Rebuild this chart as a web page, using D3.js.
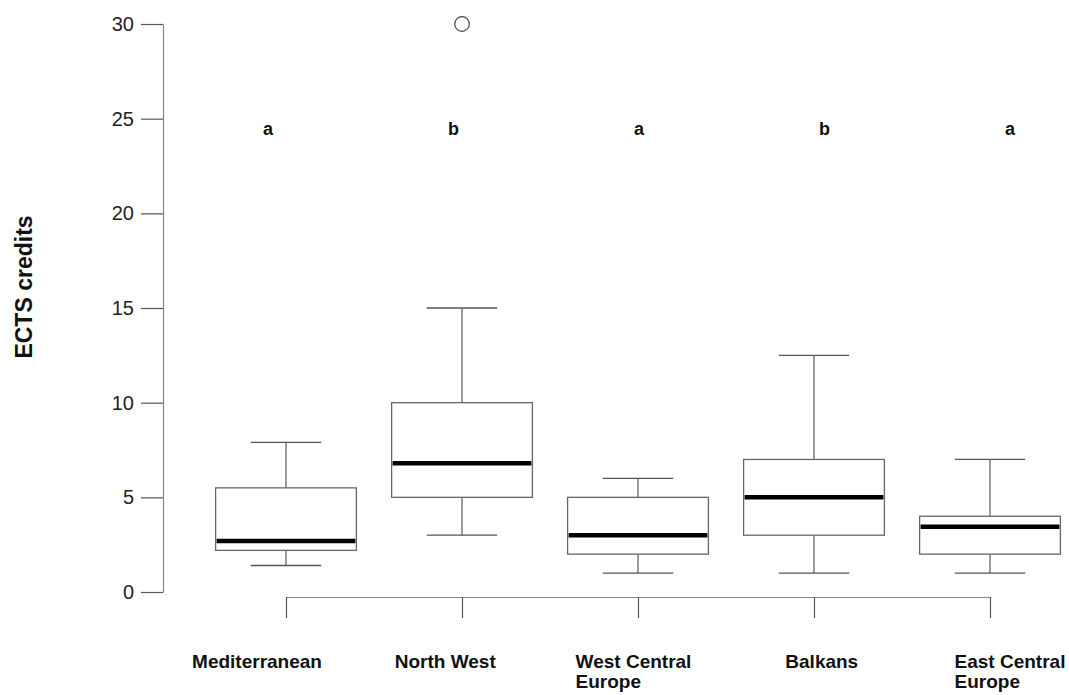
<!DOCTYPE html>
<html><head><meta charset="utf-8">
<script src="https://cdn.jsdelivr.net/npm/d3@7/dist/d3.min.js"></script>
<style>
body{margin:0;background:#fff;}
svg{display:block;font-family:"Liberation Sans",Arial,Helvetica,sans-serif;}
</style></head><body>
<svg id="chart" width="1069" height="695"></svg>
<script>
// ---- data ----
const categories = ["Mediterranean", "North West", "West Central Europe", "Balkans", "East Central Europe"];
const labelLines = [["Mediterranean"], ["North West"], ["West Central", "Europe"], ["Balkans"], ["East Central", "Europe"]];
const whiskerLow = [1.4, 3, 1, 1, 1];
const q1 = [2.2, 5, 2, 3, 2];
const median = [2.7, 6.8, 3, 5, 3.45];
const q3 = [5.5, 10, 5, 7, 4];
const whiskerHigh = [7.9, 15, 6, 12.5, 7];
const outliers = [{cat: "North West", value: 30}];
const groupLetters = ["a", "b", "a", "b", "a"];
const yTicks = [0, 5, 10, 15, 20, 25, 30];
const yLabel = "ECTS credits";
const letterLevel = 24.2;

// ---- layout ----
const svg = d3.select("#chart");
const y = d3.scaleLinear().domain([0, 30]).range([592, 24]);
const x = d3.scalePoint().domain(categories).range([286, 990]);
const letterX = d3.scalePoint().domain(categories).range([268, 1010]);
const labelX = d3.scalePoint().domain(categories).range([257, 1010]);
const boxW = x.step() * 0.8;
const capW = boxW / 2;
const lineCol = "#666";

// y axis
const yAxis = svg.append("g").attr("transform", "translate(163,0)")
  .call(d3.axisLeft(y).tickValues(yTicks).tickSize(22).tickPadding(7).tickSizeOuter(0));
yAxis.select(".domain").attr("stroke", "#888").attr("stroke-width", 1.2);
yAxis.selectAll(".tick line").attr("stroke", "#555").attr("stroke-width", 1.2);
yAxis.selectAll(".tick text").attr("font-size", 20).attr("fill", "#222")
  .attr("font-family", "'Liberation Sans',Arial,sans-serif");

// x axis
const xAxis = svg.append("g").attr("transform", "translate(0,597)")
  .call(d3.axisBottom(x).tickSize(21).tickSizeOuter(0).tickFormat(""));
xAxis.select(".domain").attr("stroke", "#888").attr("stroke-width", 1.2);
xAxis.selectAll(".tick line").attr("stroke", "#555").attr("stroke-width", 1.2);

// y label
svg.append("text")
  .attr("transform", `translate(32,287) rotate(-90)`)
  .attr("text-anchor", "middle").attr("font-weight", "bold").attr("font-size", 23)
  .attr("fill", "#111").text(yLabel);

// boxes
const rows = categories.map((c, i) => ({c, lo: whiskerLow[i], q1: q1[i], med: median[i], q3: q3[i], hi: whiskerHigh[i]}));
const g = svg.append("g");
const b = g.selectAll("g.box").data(rows).join("g").attr("class", "box");
b.append("line").attr("x1", d => x(d.c)).attr("x2", d => x(d.c))
  .attr("y1", d => y(d.q3)).attr("y2", d => y(d.hi)).attr("stroke", lineCol).attr("stroke-width", 1.3);
b.append("line").attr("x1", d => x(d.c)).attr("x2", d => x(d.c))
  .attr("y1", d => y(d.q1)).attr("y2", d => y(d.lo)).attr("stroke", lineCol).attr("stroke-width", 1.3);
b.append("line").attr("x1", d => x(d.c) - capW / 2).attr("x2", d => x(d.c) + capW / 2)
  .attr("y1", d => y(d.hi)).attr("y2", d => y(d.hi)).attr("stroke", "#555").attr("stroke-width", 1.3);
b.append("line").attr("x1", d => x(d.c) - capW / 2).attr("x2", d => x(d.c) + capW / 2)
  .attr("y1", d => y(d.lo)).attr("y2", d => y(d.lo)).attr("stroke", "#555").attr("stroke-width", 1.3);
b.append("rect").attr("x", d => x(d.c) - boxW / 2).attr("width", boxW)
  .attr("y", d => y(d.q3)).attr("height", d => y(d.q1) - y(d.q3))
  .attr("fill", "#fff").attr("stroke", lineCol).attr("stroke-width", 1.3);
b.append("line").attr("x1", d => x(d.c) - boxW / 2 + 1).attr("x2", d => x(d.c) + boxW / 2 - 1)
  .attr("y1", d => y(d.med)).attr("y2", d => y(d.med)).attr("stroke", "#000").attr("stroke-width", 4.5);

// outliers
g.selectAll("circle.out").data(outliers).join("circle").attr("class", "out")
  .attr("cx", d => x(d.cat)).attr("cy", d => y(d.value)).attr("r", 7.3)
  .attr("fill", "none").attr("stroke", "#444").attr("stroke-width", 1.2);

// group letters
svg.selectAll("text.letter").data(categories).join("text").attr("class", "letter")
  .attr("x", d => letterX(d)).attr("y", y(letterLevel) + 1)
  .attr("text-anchor", "middle").attr("font-weight", "bold").attr("font-size", 18)
  .attr("fill", "#111").text((d, i) => groupLetters[i]);

// category labels
const lab = svg.selectAll("text.cat").data(categories).join("text").attr("class", "cat")
  .attr("font-weight", "bold").attr("font-size", 19).attr("fill", "#111");
lab.each(function(d, i) {
  const t = d3.select(this);
  labelLines[i].forEach((ln, k) => {
    t.append("tspan").attr("dy", k === 0 ? 0 : 20).text(ln);
  });
  let w = 0;
  t.selectAll("tspan").each(function() { w = Math.max(w, this.getComputedTextLength()); });
  const left = labelX(d) - w / 2;
  t.attr("y", 668);
  t.selectAll("tspan").attr("x", left);
});
</script>
</body></html>
